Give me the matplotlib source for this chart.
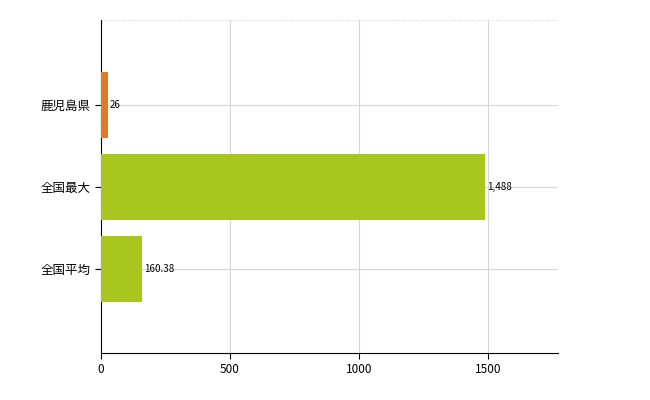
import matplotlib
matplotlib.use("Agg")
import matplotlib.pyplot as plt

categories = ["鹿児島県", "全国最大", "全国平均"]
values = [26, 1488, 160.38]
labels = ["26", "1,488", "160.38"]
colors = ["#e07a24", "#a9c61e", "#a9c61e"]

plt.rcParams['font.family'] = ['Noto Sans CJK JP', 'DejaVu Sans']
fig = plt.figure(figsize=(6.5, 4.0), dpi=100)
ax = fig.add_axes([101/650, 1-353/400, 457/650, 333/400])
pos = list(range(len(categories)))
ax.barh(pos, values, height=0.8, color=colors, zorder=3)
for p, v, l in zip(pos, values, labels):
    ax.text(v + 8, p, l, va='center', ha='left', fontsize=7, zorder=4)
ax.set_yticks(pos)
ax.set_yticklabels(categories, fontsize=9)
ax.set_ylim(3.02, -1.03)
ax.set_xlim(0, 1771)
ax.set_xticks([0, 500, 1000, 1500])
ax.tick_params(axis='x', labelsize=8.5, length=4)
ax.tick_params(axis='y', length=4)
ax.grid(True, color='#d0d8e0', linewidth=0.8, zorder=0)
for s in ['top', 'right']:
    ax.spines[s].set_visible(False)
ax.axhline(-1.03, color='#d0d8e0', linestyle=':', linewidth=0.8)
fig.savefig("out.png")
